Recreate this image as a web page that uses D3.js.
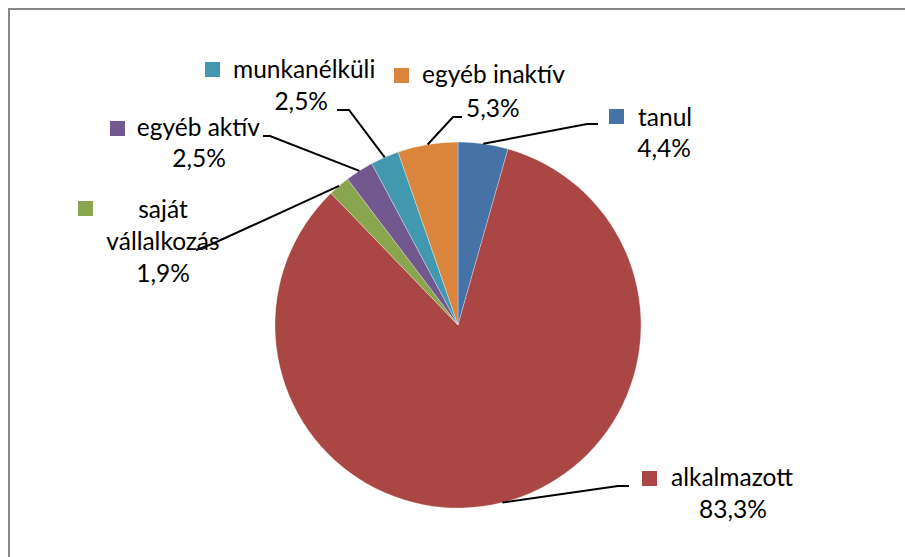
<!DOCTYPE html>
<html>
<head>
<meta charset="utf-8">
<script src="https://cdn.jsdelivr.net/npm/d3@7/dist/d3.min.js"></script>
<style>
  html, body { margin: 0; padding: 0; background: #fff; }
  svg { display: block; }
  text { font-family: Lato, "Noto Sans", sans-serif; fill: #000; }
</style>
</head>
<body>
<svg id="chart" width="905" height="557"></svg>
<script>
// Slices, clockwise from 12 o'clock
const categories = ["tanul", "alkalmazott", "saját vállalkozás", "egyéb aktív", "munkanélküli", "egyéb inaktív"];
const values = [4.4, 83.3, 1.9, 2.5, 2.5, 5.3];
const valueLabels = ["4,4%", "83,3%", "1,9%", "2,5%", "2,5%", "5,3%"];
const colors = ["#4572A7", "#AA4643", "#89A54E", "#71588F", "#4198AF", "#DB843D"];

// Label placement: elbow of the leader line, end of the leader line,
// legend key corner, and text lines with anchor positions.
const labelLayout = [
  { elbow: [587, 124], end: [598, 124], key: [609, 109],
    lines: [{ t: 0, x: 638, y: 126, a: "start" }, { t: "v", x: 664, y: 157, a: "middle" }] },
  { elbow: [618, 486], end: [629, 486], key: [642, 471],
    lines: [{ t: 0, x: 671, y: 486, a: "start" }, { t: "v", x: 733, y: 518, a: "middle" }] },
  { elbow: [212, 244], end: [196, 250], key: [78, 201],
    lines: [{ t: "saját", x: 163, y: 218, a: "middle" }, { t: "vállalkozás", x: 163, y: 250, a: "middle" }, { t: "v", x: 163, y: 282, a: "middle" }] },
  { elbow: [270, 136], end: [263, 136], key: [110, 121],
    lines: [{ t: 0, x: 260, y: 136, a: "end" }, { t: "v", x: 199, y: 167, a: "middle" }] },
  { elbow: [349, 110], end: [337, 110], key: [205, 62],
    lines: [{ t: 0, x: 233, y: 78, a: "start" }, { t: "v", x: 328, y: 110, a: "end" }] },
  { elbow: [453, 117], end: [462, 117], key: [394, 68],
    lines: [{ t: 0, x: 422, y: 83, a: "start" }, { t: "v", x: 466, y: 117, a: "start" }] }
];

const svg = d3.select("#chart");
const cx = 458, cy = 325, r = 183;

// Outer frame
svg.append("rect")
  .attr("x", 9).attr("y", 9).attr("width", 900).attr("height", 560)
  .attr("fill", "none").attr("stroke", "#868686").attr("stroke-width", 2);

const data = categories.map((c, i) => ({ name: c, value: values[i], label: valueLabels[i], color: colors[i], layout: labelLayout[i] }));

const pie = d3.pie().sort(null).value(d => d.value);
const arcs = pie(data);
const arc = d3.arc().innerRadius(0).outerRadius(r);

const g = svg.append("g").attr("transform", `translate(${cx},${cy})`);
g.selectAll("path.slice")
  .data(arcs)
  .join("path")
  .attr("class", "slice")
  .attr("d", arc)
  .attr("fill", d => d.data.color)
  .attr("stroke", "#ffffff")
  .attr("stroke-opacity", 0.5)
  .attr("stroke-width", 0.6);

// Leader lines from the slice edge at its mid-angle
const leader = d3.line();
svg.selectAll("path.leader")
  .data(arcs)
  .join("path")
  .attr("class", "leader")
  .attr("fill", "none")
  .attr("stroke", "#000")
  .attr("stroke-width", 2)
  .attr("d", d => {
    const mid = (d.startAngle + d.endAngle) / 2;
    const rr = r;
    const start = [cx + rr * Math.sin(mid), cy - rr * Math.cos(mid)];
    return leader([start, d.data.layout.elbow, d.data.layout.end]);
  });

// Labels: legend key + category name + percentage
const labels = svg.selectAll("g.label")
  .data(data)
  .join("g")
  .attr("class", "label");

labels.append("rect")
  .attr("x", d => d.layout.key[0])
  .attr("y", d => d.layout.key[1])
  .attr("width", 15).attr("height", 15)
  .attr("fill", d => d.color);

labels.each(function(d) {
  const sel = d3.select(this);
  d.layout.lines.forEach(l => {
    sel.append("text")
      .attr("x", l.x).attr("y", l.y)
      .attr("text-anchor", l.a)
      .attr("font-size", 24.5)
      .text(l.t === 0 ? d.name : l.t === "v" ? d.label : l.t);
  });
});
</script>
</body>
</html>
